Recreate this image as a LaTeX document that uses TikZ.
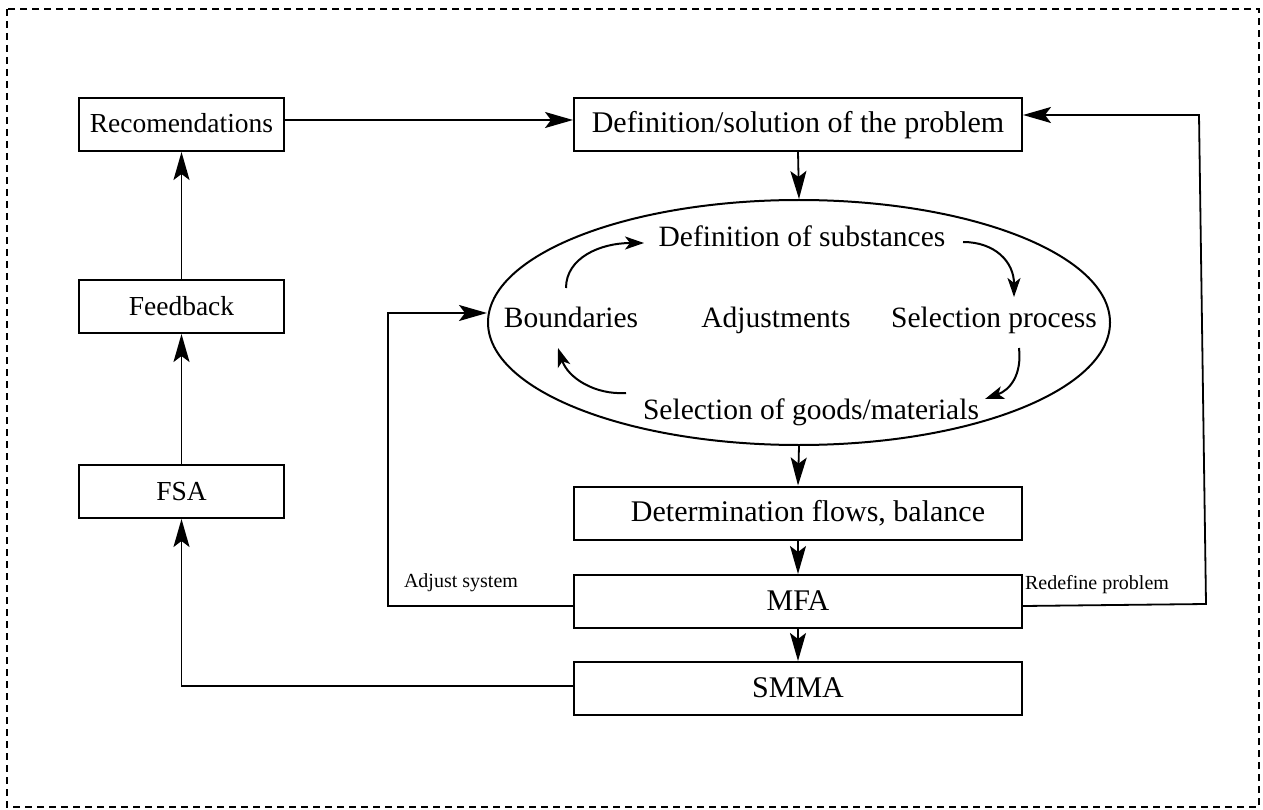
\documentclass[tikz,border=0pt]{standalone}
\usepackage{fontspec}
\setmainfont{Liberation Serif}
\usetikzlibrary{arrows.meta,shapes.geometric}
\begin{document}
\begin{tikzpicture}[x=1pt,y=-1pt,
  box/.style={draw,line width=2pt,minimum height=53pt,inner sep=0pt,text height=19pt,text depth=2pt,font=\fontsize{30}{34}\selectfont},
  lbox/.style={box,minimum width=205pt,font=\fontsize{27.5}{32}\selectfont},
  lbl/.style={font=\fontsize{29.5}{34}\selectfont,inner sep=0pt,anchor=base},
  small/.style={font=\fontsize{20}{24}\selectfont,inner sep=0pt},
  arr/.style={line width=1.8pt,-{Stealth[length=28pt,width=16pt,inset=6pt]}},
  carr/.style={line width=2pt,-{Stealth[length=19pt,width=13pt,inset=5pt]}}]
\useasboundingbox (0,0) rectangle (1263,810);
\draw[line width=1.8pt, dash pattern=on 7pt off 5pt] (7,9) rectangle (1259,807);
% left column
\node[lbox] (rec) at (181.5,124.5) {Recomendations};
\node[lbox] (fb) at (181.5,306.5) {Feedback};
\node[lbox] (fsa) at (181.5,491.5) {FSA};
% main column
\node[box,minimum width=448pt] (def) at (798,124.5) {Definition/solution of the problem};
\node[draw,ellipse,line width=2pt,minimum width=622pt,minimum height=245pt,inner sep=0pt] (ell) at (799,322.5) {};
\node[box,minimum width=448pt] (det) at (798,513) {\hspace*{20pt}Determination flows, balance};
\node[box,minimum width=448pt] (mfa) at (798,601.5) {MFA};
\node[box,minimum width=448pt] (smma) at (798,688.5) {SMMA};
% ellipse texts
\node[lbl] (ds) at (802,247) {Definition of substances};
\node[lbl] (bd) at (571,327) {Boundaries};
\node[lbl] (adj) at (776,327) {Adjustments};
\node[lbl] (sp) at (994,327) {Selection process};
\node[lbl] (sg) at (811,419) {Selection of goods/materials};
% cycle arrow coordinates
\coordinate (c1a) at (566,288); \coordinate (c1b) at (644,243);
\coordinate (c2a) at (963,242); \coordinate (c2b) at (1014,297);
\coordinate (c3a) at (1019,348); \coordinate (c3b) at (985,399);
\coordinate (c4a) at (626,393); \coordinate (c4b) at (558,348);
\draw[carr] (c1a) .. controls (566,258) and (600,243) .. (c1b);
\draw[carr] (c2a) .. controls (995,242) and (1014,262) .. (c2b);
\draw[carr] (c3a) .. controls (1022,375) and (1010,390) .. (c3b);
\draw[carr] (c4a) .. controls (595,395) and (568,378) .. (c4b);
% connectors
\draw[arr] (rec.east |- 0,120) -- (def.west |- 0,120);
\draw[arr] (def.south) -- (ell.north);
\draw[arr] (ell.south) -- (det.north);
\draw[arr] (det.south) -- (mfa.north);
\draw[arr] (mfa.south) -- (smma.north);
\draw[arr] (fsa.north) -- (fb.south);
\draw[arr] (fb.north) -- (rec.south);
\draw[arr] (smma.west |- 0,686) -| (fsa.south);
\coordinate (aj) at (388,606);
\draw[arr] (mfa.west |- 0,606) -- (aj) |- (ell.west |- 0,313);
\coordinate (r1) at (1206,604);
\coordinate (r2) at (1199,115);
\draw[arr] (mfa.east |- 0,606) -- (r1) -- (r2) -- (def.east |- 0,115);
% labels
\node[small] (ajl) at (461,583) {Adjust system};
\node[small] (rdl) at (1097,585) {Redefine problem};
\end{tikzpicture}
\end{document}
